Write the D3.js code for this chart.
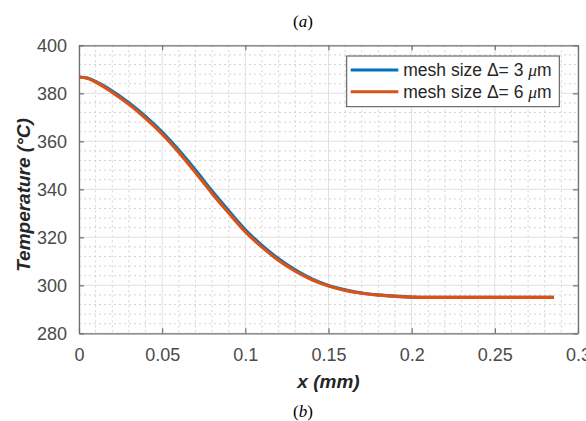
<!DOCTYPE html>
<html>
<head>
<meta charset="utf-8">
<script src="https://cdn.jsdelivr.net/npm/d3@7"></script>
<style>
  body { margin: 0; background: #fff; }
  svg { display: block; }
</style>
</head>
<body>
<div id="chart"></div>
<script>
// x positions (mm)
const xPos = [0, 0.005, 0.01, 0.02, 0.03, 0.04, 0.05, 0.06, 0.07, 0.08, 0.09, 0.1,
  0.11, 0.12, 0.13, 0.14, 0.15, 0.16, 0.17, 0.18, 0.19, 0.2,
  0.21, 0.22, 0.23, 0.24, 0.25, 0.26, 0.27, 0.28, 0.2855];

// temperature (°C), mesh 3 um
const temp3 = [386.8, 386.4, 384.95, 380.95, 376.05, 370.35, 363.85, 356.35, 348.0, 339.3, 331.05, 323.15,
  316.6, 311.0, 306.4, 302.65, 299.95, 298.1, 296.8, 296.0, 295.45, 295.1,
  295.0, 295.0, 295.0, 295.0, 295.0, 295.0, 295.0, 295.0, 295.0];

// temperature (°C), mesh 6 um
const temp6 = [386.8, 386.3, 384.7, 380.4, 375.4, 369.6, 363.0, 355.4, 347.0, 338.3, 330.1, 322.3,
  315.9, 310.4, 305.9, 302.3, 299.7, 297.9, 296.7, 295.9, 295.4, 295.1,
  295.0, 295.0, 295.0, 295.0, 295.0, 295.0, 295.0, 295.0, 295.0];

const xTicks = [0, 0.05, 0.1, 0.15, 0.2, 0.25, 0.3];
const xTickLabels = ["0", "0.05", "0.1", "0.15", "0.2", "0.25", "0.3"];
const yTicks = [280, 300, 320, 340, 360, 380, 400];

const seriesNames = ["3", "6"];
const seriesColors = ["#0072BD", "#D95319"];

const W = 586, H = 421;
const margin = { top: 45.3, right: 8, bottom: 87.7, left: 79 };
const width = W - margin.left - margin.right,
    height = H - margin.top - margin.bottom;

const svg = d3.select("#chart").append("svg")
    .attr("width", W)
    .attr("height", H);

// panel captions
svg.append("text")
    .attr("x", 303).attr("y", 27)
    .attr("text-anchor", "middle")
    .style("font-family", "Liberation Serif, Times New Roman, serif")
    .style("font-size", "17px")
    .attr("fill", "#000")
    .html('(<tspan font-style="italic">a</tspan>)');

svg.append("text")
    .attr("x", 303).attr("y", 417)
    .attr("text-anchor", "middle")
    .style("font-family", "Liberation Serif, Times New Roman, serif")
    .style("font-size", "17px")
    .attr("fill", "#000")
    .html('(<tspan font-style="italic">b</tspan>)');

const g = svg.append("g")
    .attr("transform", "translate(" + margin.left + "," + margin.top + ")");

const x = d3.scaleLinear().domain([0, 0.3]).range([0, width]);
const y = d3.scaleLinear().domain([280, 400]).range([height, 0]);

// minor grid (dotted)
const xMinor = d3.range(0, 0.3001, 0.01).filter((d, i) => i % 5 !== 0);
const yMinor = d3.range(280, 400.01, 4).filter((d, i) => i % 5 !== 0);

g.append("g").selectAll("line")
    .data(xMinor).enter().append("line")
    .attr("x1", d => x(d)).attr("x2", d => x(d))
    .attr("y1", 0).attr("y2", height)
    .attr("stroke", "#d2d2d2").attr("stroke-width", 1)
    .attr("stroke-dasharray", "2,3");

g.append("g").selectAll("line")
    .data(yMinor).enter().append("line")
    .attr("x1", 0).attr("x2", width)
    .attr("y1", d => y(d)).attr("y2", d => y(d))
    .attr("stroke", "#d2d2d2").attr("stroke-width", 1)
    .attr("stroke-dasharray", "2,3");

// major grid
g.append("g").selectAll("line")
    .data(xTicks).enter().append("line")
    .attr("x1", d => x(d)).attr("x2", d => x(d))
    .attr("y1", 0).attr("y2", height)
    .attr("stroke", "#e0e0e0").attr("stroke-width", 1);

g.append("g").selectAll("line")
    .data(yTicks).enter().append("line")
    .attr("x1", 0).attr("x2", width)
    .attr("y1", d => y(d)).attr("y2", d => y(d))
    .attr("stroke", "#e0e0e0").attr("stroke-width", 1);

// axes, ticks inward on all sides
const axisColor = "#707070";
const tickFont = "Liberation Sans, Arial, Helvetica, sans-serif";

const xAxis = g.append("g")
    .attr("transform", "translate(0," + height + ")")
    .call(d3.axisBottom(x).tickValues(xTicks)
        .tickFormat((d, i) => xTickLabels[i])
        .tickSizeInner(-5).tickSizeOuter(0).tickPadding(15));

const yAxis = g.append("g")
    .call(d3.axisLeft(y).tickValues(yTicks)
        .tickSizeInner(-5).tickSizeOuter(0).tickPadding(12));

const xTop = g.append("g")
    .call(d3.axisTop(x).tickValues(xTicks).tickFormat("")
        .tickSizeInner(-5).tickSizeOuter(0));

const yRight = g.append("g")
    .attr("transform", "translate(" + width + ",0)")
    .call(d3.axisRight(y).tickValues(yTicks).tickFormat("")
        .tickSizeInner(-5).tickSizeOuter(0));

[xAxis, yAxis, xTop, yRight].forEach(a => {
    a.select(".domain").attr("stroke", axisColor).attr("stroke-width", 1.3);
    a.selectAll(".tick line").attr("stroke", axisColor).attr("stroke-width", 1.2);
    a.selectAll(".tick text")
        .attr("fill", "#4a4a4a")
        .style("font-family", tickFont)
        .style("font-size", "18px");
});

// curves
const line = d3.line()
    .x((d, i) => x(xPos[i]))
    .y(d => y(d))
    .curve(d3.curveMonotoneX);

[temp3, temp6].forEach((s, k) => {
    g.append("path")
        .datum(s)
        .attr("fill", "none")
        .attr("stroke", seriesColors[k])
        .attr("stroke-width", 3.2)
        .attr("d", line);
});

// axis labels
svg.append("text")
    .attr("x", margin.left + width / 2)
    .attr("y", 388)
    .attr("text-anchor", "middle")
    .style("font-family", tickFont)
    .style("font-size", "19px")
    .style("font-weight", "bold")
    .style("font-style", "italic")
    .attr("fill", "#262626")
    .text("x (mm)");

svg.append("text")
    .attr("transform", "translate(30,195) rotate(-90)")
    .attr("text-anchor", "middle")
    .style("font-family", tickFont)
    .style("font-size", "19px")
    .style("font-weight", "bold")
    .style("font-style", "italic")
    .attr("fill", "#262626")
    .text("Temperature (°C)");

// legend
const lx = 346.7 - margin.left, ly = 56 - margin.top;
const legend = g.append("g").attr("transform", "translate(" + lx + "," + ly + ")");
legend.append("rect")
    .attr("width", 212.6).attr("height", 50.7)
    .attr("fill", "#fff")
    .attr("stroke", "#4d4d4d").attr("stroke-width", 1);

seriesNames.forEach((n, i) => {
    const yy = 14 + i * 21.7;
    legend.append("line")
        .attr("x1", 4).attr("x2", 51.6)
        .attr("y1", yy).attr("y2", yy)
        .attr("stroke", seriesColors[i]).attr("stroke-width", 3);
    legend.append("text")
        .attr("x", 56.6).attr("y", yy + 6)
        .attr("fill", "#262626")
        .style("font-family", tickFont)
        .style("font-size", "17.5px")
        .html('mesh size \u0394= ' + n + ' <tspan font-family="Liberation Serif, Times New Roman, serif" font-style="italic">\u03bc</tspan>m');
});
</script>
</body>
</html>
